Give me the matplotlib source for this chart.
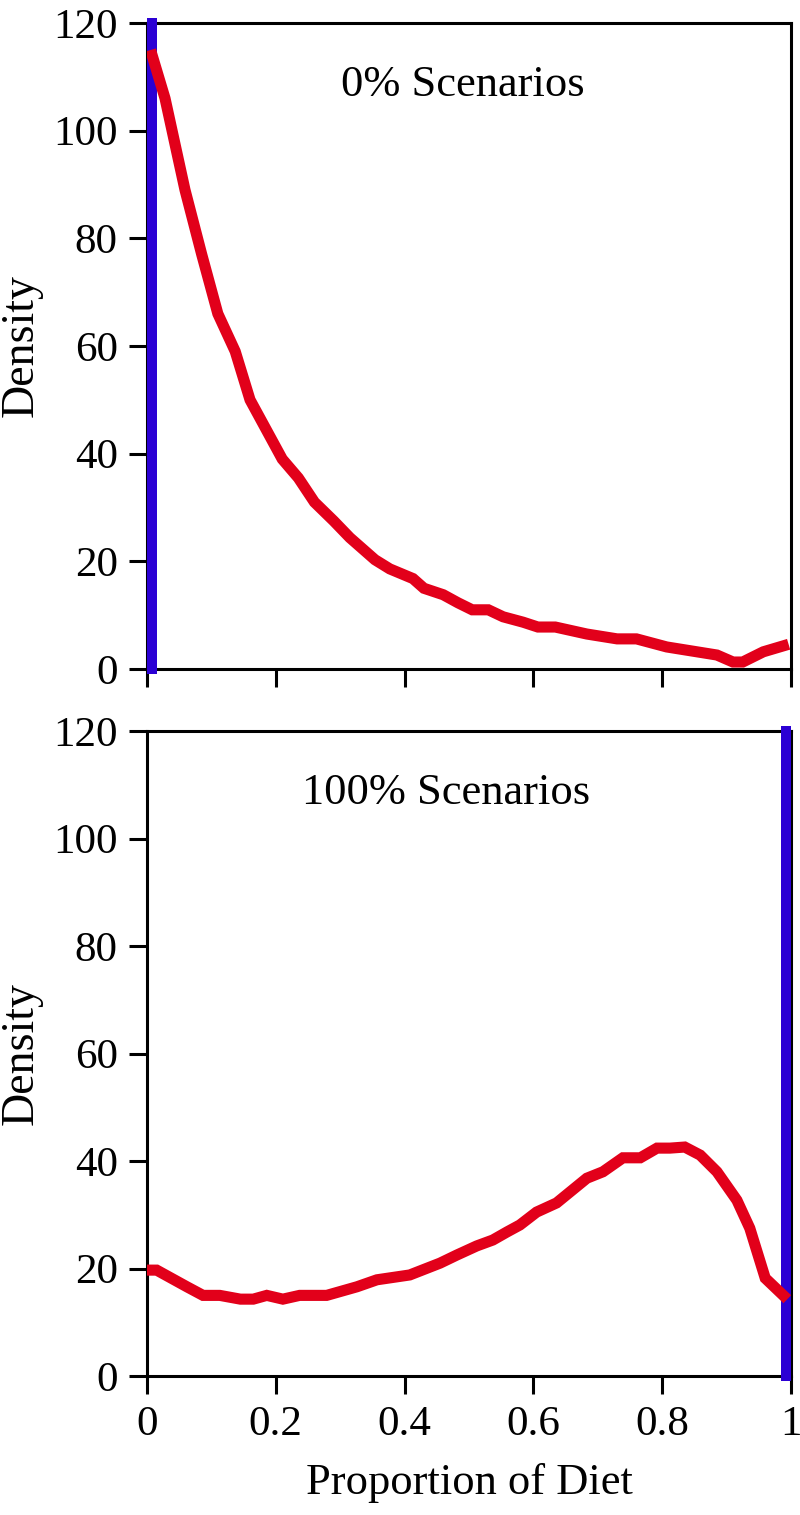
import matplotlib
matplotlib.use("Agg")
import matplotlib.pyplot as plt

# 0% scenarios (top panel)
x_zero = [0.008, 0.028, 0.059, 0.085, 0.11, 0.137, 0.16, 0.21, 0.235, 0.26,
          0.29, 0.315, 0.354, 0.377, 0.393, 0.413, 0.43, 0.46, 0.483, 0.505,
          0.53, 0.553, 0.584, 0.607, 0.634, 0.683, 0.73, 0.76, 0.807, 0.885,
          0.91, 0.925, 0.957, 0.988]
y_zero = [114, 106, 89, 77, 66, 59, 50, 39, 35.5, 31,
          27.5, 24.4, 20.3, 18.6, 17.8, 16.8, 15, 13.8, 12.3, 11,
          11, 9.7, 8.7, 7.8, 7.8, 6.5, 5.6, 5.6, 4.1, 2.6,
          1.3, 1.3, 3.2, 4.3]

# 100% scenarios (bottom panel)
x_full = [0.002, 0.015, 0.062, 0.087, 0.113, 0.145, 0.165, 0.186, 0.211, 0.237,
          0.279, 0.326, 0.357, 0.408, 0.455, 0.481, 0.512, 0.537, 0.559, 0.579,
          0.605, 0.636, 0.683, 0.708, 0.739, 0.766, 0.792, 0.812, 0.835, 0.859,
          0.885, 0.916, 0.936, 0.96, 0.988]
y_full = [19.7, 19.7, 16.6, 15, 15, 14.3, 14.3, 15, 14.3, 15,
          15, 16.6, 17.9, 18.8, 21, 22.5, 24.2, 25.3, 26.8, 28.1,
          30.5, 32.2, 36.8, 38, 40.6, 40.6, 42.4, 42.4, 42.6, 41.1,
          38, 32.7, 27.5, 18.2, 15]

true_values = [0.008, 0.992]
titles = ["0% Scenarios", "100% Scenarios"]
title_x = [0.49, 0.465]

RED = "#e2001a"
BLUE = "#2b00d4"

plt.rcParams['font.family'] = ['Liberation Serif', 'DejaVu Serif']
plt.rcParams['font.size'] = 31

fig = plt.figure(figsize=(8, 15.15), dpi=100)
ax_top = fig.add_axes([0.18375, 0.5584, 0.805, 0.4264])
ax_bot = fig.add_axes([0.18375, 0.09175, 0.805, 0.4257])

series = [(x_zero, y_zero), (x_full, y_full)]
for i, ax in enumerate([ax_top, ax_bot]):
    xs, ys = series[i]
    ax.plot([true_values[i], true_values[i]], [0, 120], color=BLUE,
            linewidth=7.2, solid_capstyle='projecting', clip_on=False, zorder=3)
    ax.plot(xs, ys, color=RED, linewidth=8, solid_joinstyle='miter', zorder=4)
    ax.set_xlim(0, 1)
    ax.set_ylim(0, 120)
    ax.set_yticks([0, 20, 40, 60, 80, 100, 120])
    ax.set_xticks([0, 0.2, 0.4, 0.6, 0.8, 1])
    ax.set_xticklabels(["0", "0.2", "0.4", "0.6", "0.8", "1"])
    ax.tick_params(direction='out', length=13, width=2.2, pad=8, labelsize=31)
    for s in ax.spines.values():
        s.set_linewidth(2.2)
    ax.set_ylabel("Density", labelpad=8, fontsize=33)
    ax.text(title_x[i], 108.5, titles[i], ha='center', va='center', fontsize=32)

ax_top.tick_params(labelbottom=False)
ax_bot.set_xlabel("Proportion of Diet", labelpad=14, fontsize=32)

fig.savefig("out.png", dpi=100)
